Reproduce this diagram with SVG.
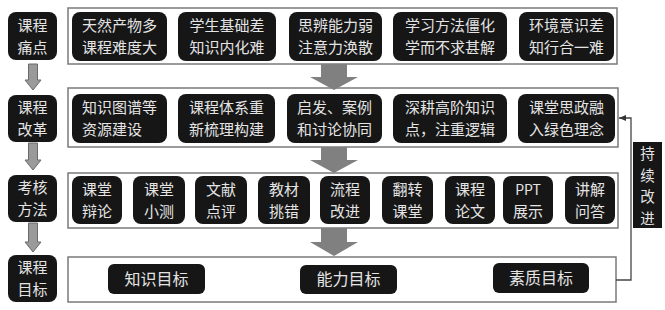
<svg xmlns="http://www.w3.org/2000/svg" width="665" height="310" viewBox="0 0 665 310">
<defs>
<style>
.frame{fill:#fff;stroke:#7a7a7a;stroke-width:1.5}
.box{fill:#161616}
.t{font-family:"Noto Sans CJK SC","Liberation Sans",sans-serif;font-size:15px;fill:#e4e4e4;text-anchor:middle}
.v{font-size:14.5px}
.big{fill:#808080}
.small{fill:#9a9a9a;stroke:#6a6a6a;stroke-width:1}
.conn{fill:none;stroke:#444;stroke-width:1.3}
</style>
<marker id="ah" markerWidth="8" markerHeight="8" refX="7" refY="4" orient="auto" markerUnits="userSpaceOnUse">
<path d="M0,1 L7,4 L0,7 Z" fill="#333"/>
</marker>
</defs>
<rect width="665" height="310" fill="#fff"/>

<g id="frames">
<rect class="frame" x="68" y="8" width="549" height="56"/>
<rect class="frame" x="68" y="88" width="550" height="59"/>
<rect class="frame" x="68" y="173" width="550" height="55"/>
<rect class="frame" x="68" y="257" width="548" height="45"/>
</g>

<g id="connectors">
<path class="small" d="M28.5,64 H37.5 V80 H41 L33,90 L25,80 H28.5 Z"/>
<path class="small" d="M28.5,143 H37.5 V160 H41 L33,170 L25,160 H28.5 Z"/>
<path class="small" d="M28.5,223 H37.5 V242 H41 L33,252 L25,242 H28.5 Z"/>
<path class="big" d="M321,64 H347 V77 H358 L334,90 L310,77 H321 Z"/>
<path class="big" d="M321,147 H347 V160 H358 L334,173 L310,160 H321 Z"/>
<path class="big" d="M321,228 H347 V242 H358 L334,256 L310,242 H321 Z"/>
<path class="conn" d="M616,280 H631 V118 H619" marker-end="url(#ah)"/>
</g>

<g id="label-row1"><rect class="box" x="8" y="12" width="49" height="48" rx="8"/><text class="t" x="32.5" y="31">课程</text><text class="t" x="32.5" y="53">痛点</text></g>
<g id="label-row2"><rect class="box" x="8" y="95" width="49" height="47" rx="8"/><text class="t" x="32.5" y="113">课程</text><text class="t" x="32.5" y="135">改革</text></g>
<g id="label-row3"><rect class="box" x="8" y="175" width="49" height="47" rx="8"/><text class="t" x="32.5" y="193">考核</text><text class="t" x="32.5" y="215">方法</text></g>
<g id="label-row4"><rect class="box" x="8" y="255" width="49" height="47" rx="8"/><text class="t" x="32.5" y="273">课程</text><text class="t" x="32.5" y="295">目标</text></g>

<g id="p1"><rect class="box" x="72" y="12" width="95" height="49" rx="8"/><text class="t" x="119.5" y="31">天然产物多</text><text class="t" x="119.5" y="53">课程难度大</text></g>
<g id="p2"><rect class="box" x="178" y="12" width="98" height="49" rx="8"/><text class="t" x="227" y="31">学生基础差</text><text class="t" x="227" y="53">知识内化难</text></g>
<g id="p3"><rect class="box" x="289" y="12" width="93" height="49" rx="8"/><text class="t" x="335.5" y="31">思辨能力弱</text><text class="t" x="335.5" y="53">注意力涣散</text></g>
<g id="p4"><rect class="box" x="393" y="12" width="114" height="49" rx="8"/><text class="t" x="450" y="31">学习方法僵化</text><text class="t" x="450" y="53">学而不求甚解</text></g>
<g id="p5"><rect class="box" x="519" y="12" width="95" height="49" rx="8"/><text class="t" x="566.5" y="31">环境意识差</text><text class="t" x="566.5" y="53">知行合一难</text></g>

<g id="r1"><rect class="box" x="72" y="94" width="95" height="49" rx="8"/><text class="t" x="119.5" y="113">知识图谱等</text><text class="t" x="82" y="135" style="text-anchor:start">资源建设</text></g>
<g id="r2"><rect class="box" x="178" y="94" width="97" height="49" rx="8"/><text class="t" x="226.5" y="113">课程体系重</text><text class="t" x="226.5" y="135">新梳理构建</text></g>
<g id="r3"><rect class="box" x="287" y="94" width="95" height="49" rx="8"/><text class="t" x="334.5" y="113">启发、案例</text><text class="t" x="334.5" y="135">和讨论协同</text></g>
<g id="r4"><rect class="box" x="393" y="94" width="114" height="49" rx="8"/><text class="t" x="450" y="113">深耕高阶知识</text><text class="t" x="450" y="135">点，注重逻辑</text></g>
<g id="r5"><rect class="box" x="518" y="94" width="97" height="49" rx="8"/><text class="t" x="566.5" y="113">课堂思政融</text><text class="t" x="566.5" y="135">入绿色理念</text></g>

<g id="m1"><rect class="box" x="72" y="176" width="50" height="48" rx="8"/><text class="t" x="97" y="195">课堂</text><text class="t" x="97" y="217">辩论</text></g>
<g id="m2"><rect class="box" x="133" y="176" width="52" height="48" rx="8"/><text class="t" x="159" y="195">课堂</text><text class="t" x="159" y="217">小测</text></g>
<g id="m3"><rect class="box" x="195" y="176" width="52" height="48" rx="8"/><text class="t" x="221" y="195">文献</text><text class="t" x="221" y="217">点评</text></g>
<g id="m4"><rect class="box" x="258" y="176" width="52" height="48" rx="8"/><text class="t" x="284" y="195">教材</text><text class="t" x="284" y="217">挑错</text></g>
<g id="m5"><rect class="box" x="320" y="176" width="50" height="48" rx="8"/><text class="t" x="345" y="195">流程</text><text class="t" x="345" y="217">改进</text></g>
<g id="m6"><rect class="box" x="382" y="176" width="51" height="48" rx="8"/><text class="t" x="407.5" y="195">翻转</text><text class="t" x="407.5" y="217">课堂</text></g>
<g id="m7"><rect class="box" x="445" y="176" width="50" height="48" rx="8"/><text class="t" x="470" y="195">课程</text><text class="t" x="470" y="217">论文</text></g>
<g id="m8"><rect class="box" x="503" y="176" width="50" height="48" rx="8"/><text class="t" x="528" y="195" style="font-size:14px">PPT</text><text class="t" x="528" y="217">展示</text></g>
<g id="m9"><rect class="box" x="565" y="176" width="50" height="48" rx="8"/><text class="t" x="590" y="195">讲解</text><text class="t" x="590" y="217">问答</text></g>

<g id="g1"><rect class="box" x="108" y="264" width="97" height="30" rx="6"/><text class="t" x="156.5" y="284.5" style="font-size:16px">知识目标</text></g>
<g id="g2"><rect class="box" x="300" y="265" width="97" height="29" rx="6"/><text class="t" x="348.5" y="285" style="font-size:16px">能力目标</text></g>
<g id="g3"><rect class="box" x="493" y="263" width="96" height="30" rx="6"/><text class="t" x="541" y="283.5" style="font-size:16px">素质目标</text></g>

<g id="improve"><rect class="box" x="633" y="142" width="29" height="86"/><text class="t v" x="647.5" y="159">持</text><text class="t v" x="647.5" y="180.5">续</text><text class="t v" x="647.5" y="202">改</text><text class="t v" x="647.5" y="223.5">进</text></g>
</svg>
